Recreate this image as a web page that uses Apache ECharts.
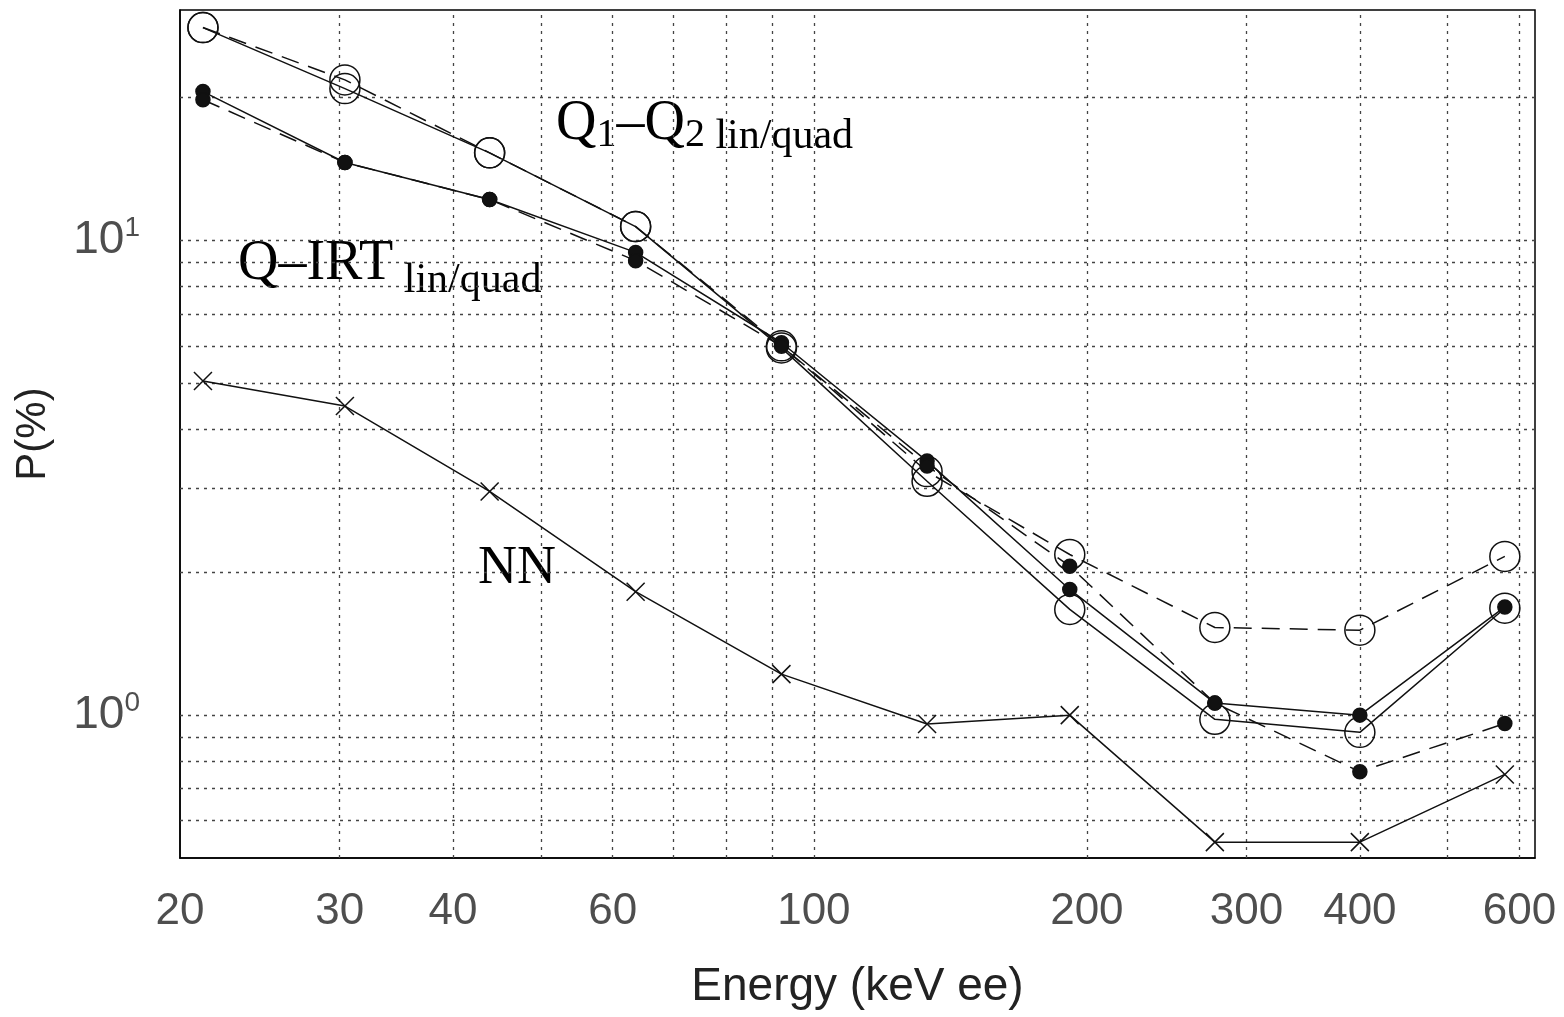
<!DOCTYPE html><html><head><meta charset="utf-8">
<script src="https://cdn.jsdelivr.net/npm/echarts@6/dist/echarts.min.js"></script>
<style>html,body{margin:0;background:#fff}#c{width:1564px;height:1017px}</style></head><body><div id="c"></div>
<script>
const energy=[21.2,30.4,43.9,63.6,92.1,133.3,191.5,276.8,400,578];
const q12Lin=[28.1,20.9,15.3,10.7,5.94,3.11,1.67,0.98,0.92,1.68];
const q12Quad=[28.1,21.8,15.3,10.7,6.0,3.26,2.18,1.53,1.51,2.16];
const qirtLin=[20.6,14.6,12.2,9.44,6.09,3.43,1.84,1.06,1.0,1.69];
const qirtQuad=[19.8,14.6,12.2,9.07,5.99,3.35,2.06,1.06,0.76,0.96];
const nn=[5.06,4.48,2.96,1.82,1.22,0.958,1.0,0.54,0.54,0.75];
const xGrid=[30,40,50,60,70,80,90,100,200,300,400,500,600];
const xTickLabels=[20,30,40,60,100,200,300,400,600];
const yGrid=[0.6,0.7,0.8,0.9,1,2,3,4,5,6,7,8,9,10,20];
const yTickLabels=[1,10];
const pair=a=>a.map((v,i)=>[energy[i],v]);
const grid={type:[3,5],color:'#444',width:1.3};
const FN='Liberation Sans Narrow, Liberation Sans';
function ser(name,data,sym,size,filled,dash){return{name,type:'line',data:pair(data),symbol:sym,symbolSize:size,
 lineStyle:{color:'#111',width:1.5,type:dash?[18,10]:'solid'},
 itemStyle:{color:filled?'#111':'rgba(0,0,0,0)',borderColor:'#111',borderWidth:1.5},z:5};}
const base=ser('q12Lin',q12Lin,'circle',30,false,false);
base.markLine={silent:true,symbol:'none',animation:false,lineStyle:grid,data:[
 ...xGrid.map(v=>({xAxis:v,label:{show:false}})),
 ...yGrid.map(v=>({yAxis:v,label:{show:false}}))]};
const c=echarts.init(document.getElementById('c'));
c.setOption({animation:false,
 grid:{left:180,right:29,top:10,bottom:159,outerBoundsMode:'none',containLabel:false,show:true,borderColor:'#000',borderWidth:1.5},
 xAxis:{type:'log',min:20,max:624,axisLine:{lineStyle:{color:'#000',width:1.5}},axisTick:{show:false},axisLabel:{show:false},splitLine:{show:false},
   name:'Energy (keV ee)',nameLocation:'middle',nameGap:106,nameTextStyle:{fontSize:46,color:'#222',fontFamily:FN}},
 yAxis:{type:'log',min:0.5,max:30.6,axisLine:{show:true,lineStyle:{color:'#000',width:1.5}},axisTick:{show:false},axisLabel:{show:false},splitLine:{show:false},
   name:'P(%)',nameLocation:'middle',nameGap:126,nameTextStyle:{fontSize:42,color:'#222',fontFamily:FN}},
 series:[base,ser('q12Quad',q12Quad,'circle',30,false,true),ser('qirtLin',qirtLin,'circle',14,true,false),
  ser('qirtQuad',qirtQuad,'circle',14,true,true),ser('nn',nn,'path://M0,0L10,10M10,0L0,10',18,false,false),
  {type:'scatter',data:xTickLabels.map(v=>[v,0.5]),symbolSize:0,label:{show:true,position:'bottom',distance:32,formatter:p=>p.value[0],fontSize:44,color:'#222',fontFamily:FN}},
  {type:'scatter',data:yTickLabels.map(v=>[20,v]),symbolSize:0,label:{show:true,position:'left',distance:40,formatter:p=>'{b|10}{s|'+(p.value[1]===1?0:1)+'}',
    rich:{b:{fontSize:46,color:'#222',fontFamily:FN},s:{fontSize:28,color:'#222',fontFamily:FN,verticalAlign:'top',padding:[0,0,24,0]}}}}
 ],
 graphic:[
  {type:'text',left:556,top:96,style:{text:'{a|Q}{s|1}{a|–Q}{s|2}{t| lin/quad}',rich:{a:{fontSize:56,fontFamily:'Liberation Serif'},s:{fontSize:40,fontFamily:'Liberation Serif',padding:[22,0,0,0]},t:{fontSize:42,fontFamily:'Liberation Serif',padding:[26,0,0,0]}}}},
  {type:'text',left:238,top:236,style:{text:'{a|Q–IRT}{t| lin/quad}',rich:{a:{fontSize:56,fontFamily:'Liberation Serif'},t:{fontSize:42,fontFamily:'Liberation Serif',padding:[34,0,0,0]}}}},
  {type:'text',left:478,top:542,style:{text:'NN',font:'54px Liberation Serif'}}
 ]});
</script></body></html>
